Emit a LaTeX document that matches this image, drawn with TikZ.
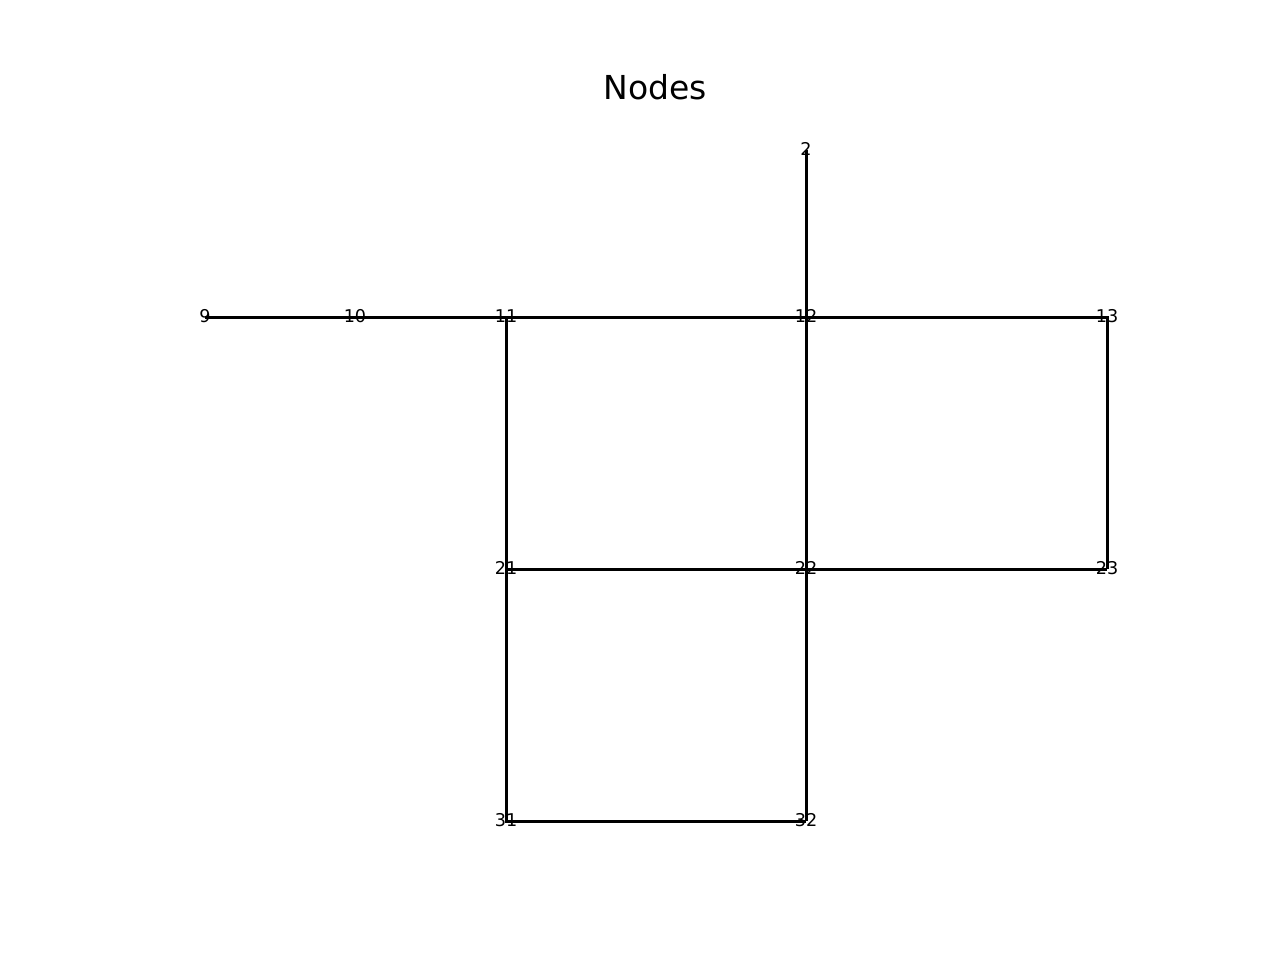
\documentclass[tikz,border=0pt]{standalone}
\usepackage{fontspec}
\setmainfont{DejaVu Sans}
\usepackage{tikz}
\usetikzlibrary{calc, positioning}

\begin{document}
\begin{tikzpicture}[x=0.5pt, y=-0.5pt,
    edge/.style={line width=1.5pt, black},
    lbl/.style={anchor=base, inner sep=0pt, font=\fontsize{8.8}{10}\selectfont}]
    \useasboundingbox (0,0) rectangle (1280,960);
    % Titel
    \node[anchor=base, inner sep=0pt, font=\fontsize{16.5}{20}\selectfont] (title) at (655.5,99) {Nodes};
    % Knotenpunkte
    \coordinate (n2) at (806,150);
    \coordinate (n9) at (205,317);
    \coordinate (n10) at (355,317);
    \coordinate (n11) at (506,317);
    \coordinate (n12) at (806,317);
    \coordinate (n13) at (1107,317);
    \coordinate (n21) at (506,569);
    \coordinate (n22) at (806,569);
    \coordinate (n23) at (1107,569);
    \coordinate (n31) at (506,821);
    \coordinate (n32) at (806,821);
    % Kanten
    \draw[edge] (n9) -- (n10) -- (n11) -- (n12) -- (n13) -- (n23);
    \draw[edge] (n2) -- (n12) -- (n22) -- (n32);
    \draw[edge] (n11) -- (n21) -- (n31) -- (n32);
    \draw[edge] (n21) -- (n22) -- (n23);
    % Beschriftungen
    \foreach \n in {2,9,10,11,12,13,21,22,23,31,32}
        \node[lbl] (l\n) at ($(n\n)+(0,5)$) {\n};
\end{tikzpicture}
\end{document}
